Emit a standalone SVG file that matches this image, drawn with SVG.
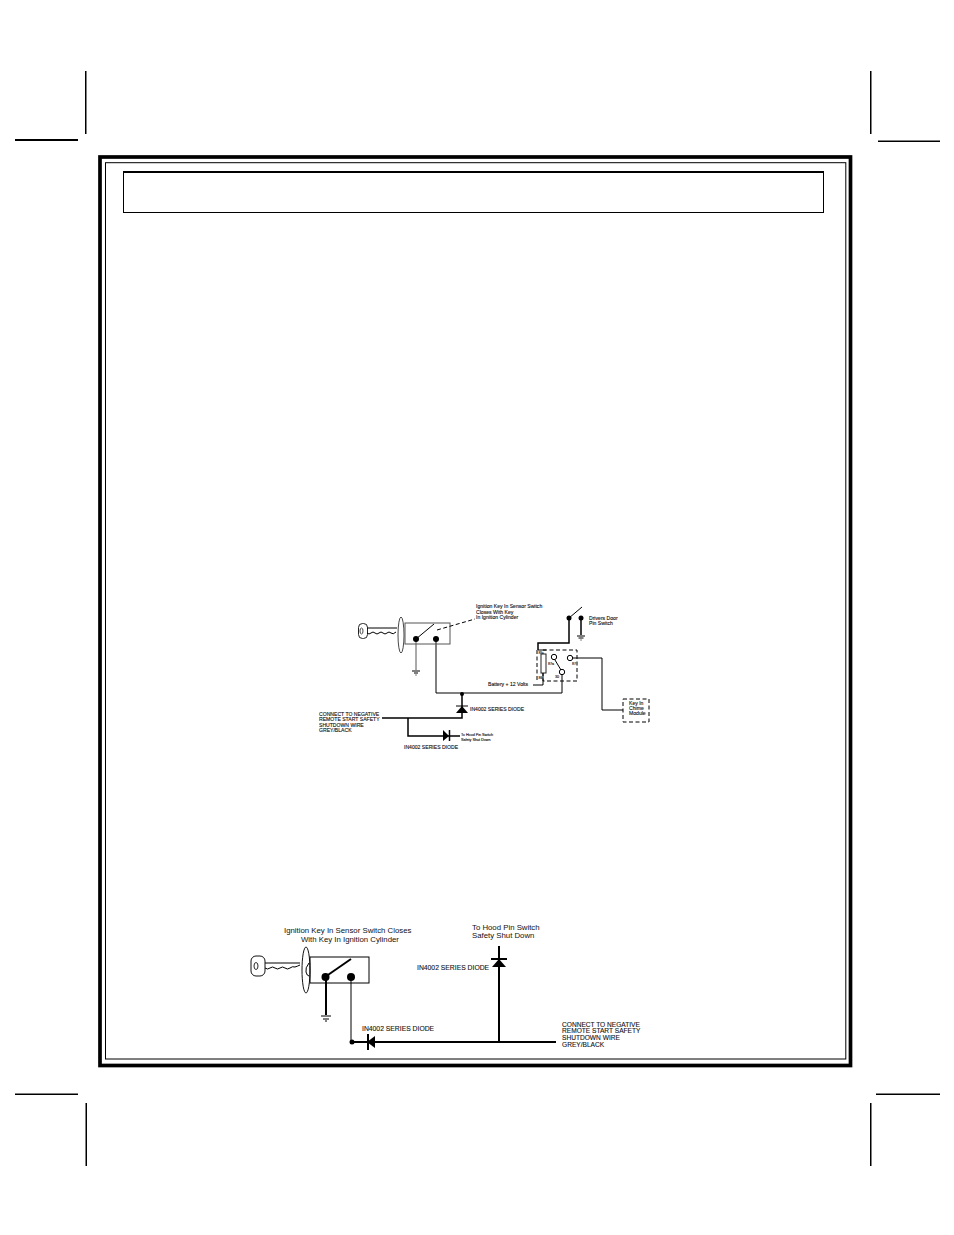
<svg xmlns="http://www.w3.org/2000/svg" width="954" height="1235" viewBox="0 0 954 1235">
<style>
text{font-family:"Liberation Sans",Arial,sans-serif;fill:#111}
.l,.t1,.t2,.th,.d{fill:none;stroke:#000}
.l{stroke-width:1}
.t1{stroke-width:1.5}
.t2{stroke-width:2}
.th{stroke:#555;stroke-width:1}
.d{stroke-width:1;stroke-dasharray:4 2.500}
.f{fill:#000;stroke:none}
.s4{font-size:3.700px;stroke:#111;stroke-width:.12}
.s5{font-size:5.100px;stroke:#111;stroke-width:.12}
.s6{font-size:6.600px;stroke:#111;stroke-width:.1}
.s7{font-size:6.800px;stroke:#111;stroke-width:.1}
.s8{font-size:7.800px}
</style>
<rect width="954" height="1235" fill="#fff"/>
<g id="crop-marks" fill="#000" stroke="none">
<rect x="85" y="71" width="1.500" height="63"/><rect x="15" y="139" width="63" height="2"/>
<rect x="870" y="71" width="1.500" height="63"/><rect x="878" y="140.500" width="62" height="1.500"/>
<rect x="15" y="1093.500" width="63" height="1.500"/><rect x="876" y="1093.500" width="64" height="1.500"/>
<rect x="85.500" y="1103" width="1.500" height="63"/><rect x="870" y="1103" width="1.500" height="63"/>
</g>
<g id="frame">
<rect x="100" y="157" width="750.500" height="908.500" fill="none" stroke="#000" stroke-width="3.700"/>
<rect x="105.500" y="162.700" width="740.300" height="896.300" fill="none" stroke="#000" stroke-width="1"/>
</g>
<g id="header-box">
<rect x="123.500" y="172" width="700" height="40.500" fill="none" stroke="#000" stroke-width="1"/>
<rect x="123" y="171" width="701" height="2" class="f"/>
</g>
<g id="connectors">
<path class="th" d="M416 639V670"/>
<path class="l" d="M436 639V693H562V675"/>
<path class="t1" d="M382 718H462V694"/>
<path class="t1" d="M408 718V736H460"/>
<path class="t1" d="M569 618V643H538V650"/>
<path class="t1" d="M581 618V635"/>
<path class="l" d="M573 658H602V710H623"/>
<path class="t2" d="M326 977V1015" stroke-width="1.500"/>
<path class="l" d="M351 977V1042"/>
<path class="t2" d="M352 1042H367M372 1042H556"/>
<path class="t2" d="M499 946V1042"/>
</g>
<g id="key-1">
<rect x="358.500" y="623.500" width="9" height="15" rx="4" fill="none" stroke="#222" stroke-width="1"/>
<ellipse cx="361.500" cy="631" rx="1.500" ry="3" fill="none" stroke="#222" stroke-width=".8"/>
<path class="l" stroke-width=".8" d="M367 628H397M367 633q2 2 4 0t4 0t4 0t4 0t4 0t4 0t5-1"/>
<ellipse cx="401" cy="635" rx="3" ry="18" fill="#fff" stroke="#333" stroke-width=".9"/>
</g>
<g id="sensor-switch-1">
<rect x="405" y="623" width="45" height="21" class="th"/>
<circle cx="416" cy="639" r="3" class="f"/><circle cx="436" cy="639" r="3" class="f"/>
<path class="l" d="M416 639L434 624"/>
<path class="d" d="M437 630L475 619" stroke-dasharray="5 3"/>
<path class="l" d="M412 671H420M414 673H418M415.500 675H416.500"/>
<text class="s5" x="476" y="608">Ignition Key In Sensor Switch</text>
<text class="s5" x="476" y="613.500">Closes With Key</text>
<text class="s5" x="476" y="619">In Ignition Cylinder</text>
</g>
<g id="door-switch">
<circle cx="569" cy="618" r="2.500" class="f"/><circle cx="581" cy="618" r="2.500" class="f"/>
<path class="l" d="M569 618L582 607M577 636H585M578.500 638H583.500M580.500 640H581.500"/>
<text class="s5" x="589" y="620">Drivers Door</text>
<text class="s5" x="589" y="625">Pin Switch</text>
</g>
<g id="relay">
<rect x="543" y="650" width="34" height="31" class="d"/>
<path class="d" d="M537 650V680"/>
<rect x="541" y="654" width="5" height="19" fill="#fff" stroke="#222" stroke-width="1"/>
<path class="l" d="M533 685H543V673M538 650H546"/>
<circle cx="554" cy="657" r="2.700" fill="#fff" stroke="#000"/><circle cx="570" cy="658" r="2.700" fill="#fff" stroke="#000"/><circle cx="562" cy="672" r="2.700" fill="#fff" stroke="#000"/>
<path class="l" d="M555 660L561 670"/>
<text class="s4" x="538.500" y="653.500">85</text><text class="s4" x="538.500" y="678.500">86</text><text class="s4" x="548" y="664.500">87a</text><text class="s4" x="572" y="664.500">87</text><text class="s4" x="555" y="678">30</text>
<text class="s5" x="488" y="686">Battery + 12 Volts</text>
</g>
<g id="chime-module">
<rect x="623" y="699" width="26" height="23" class="d"/>
<text class="s5" x="629" y="705">Key In</text><text class="s5" x="629" y="710">Chime</text><text class="s5" x="629" y="715">Module</text>
</g>
<g id="diode-1a">
<circle cx="462" cy="694" r="2" class="f"/>
<path class="f" d="M462 706L456 713H468Z"/><path class="l" d="M456 706H468"/>
<text class="s5" x="470" y="711">IN4002 SERIES DIODE</text>
</g>
<g id="diode-1b">
<path class="f" d="M443 730L449 736L443 741Z"/><path class="t1" d="M449.500 730V741"/>
<text class="s4" x="461" y="735.500">To Hood Pin Switch</text><text class="s4" x="461" y="740.500">Safety Shut Down</text>
<text class="s5" x="404" y="749">IN4002 SERIES DIODE</text>
</g>
<g id="shutdown-label-1">
<text class="s5" x="319" y="716">CONNECT TO NEGATIVE</text>
<text class="s5" x="319" y="721">REMOTE START SAFETY</text>
<text class="s5" x="319" y="726.500">SHUTDOWN WIRE</text>
<text class="s5" x="319" y="732">GREY/BLACK</text>
</g>
<g id="key-2">
<rect x="251" y="956" width="14" height="20" rx="5" fill="none" stroke="#111" stroke-width="1"/>
<ellipse cx="256" cy="966" rx="2" ry="3.500" fill="none" stroke="#111" stroke-width=".9"/>
<path class="l" d="M265 963H300M265 968q2.500 2 5 0t5 0t5 0t5 0t5 0t5-1q3-1 5-2"/>
<ellipse cx="306" cy="970" rx="4" ry="23" fill="#fff" stroke="#111" stroke-width="1"/>
<path class="l" d="M309 963q-4 5-3 9t3 4" stroke-width=".8"/>
</g>
<g id="sensor-switch-2">
<rect x="310" y="957" width="59" height="26" fill="none" stroke="#000" stroke-width="1"/>
<circle cx="325.500" cy="977" r="4" class="f"/><circle cx="351" cy="977" r="4" class="f"/>
<path class="t2" d="M325 977L351 959"/>
<path class="l" d="M321 1016H331M323 1019H329M325 1021H327"/>
<text class="s8" x="284" y="933">Ignition Key In Sensor Switch Closes</text>
<text class="s8" x="301" y="942">With Key In Ignition Cylinder</text>
</g>
<g id="diode-2a">
<circle cx="352" cy="1042" r="2.500" class="f"/>
<path class="f" d="M367 1042L375 1036V1048Z"/><path class="t2" d="M368 1034V1050"/>
<text class="s7" x="362" y="1030.500">IN4002 SERIES DIODE</text>
</g>
<g id="diode-2b">
<path class="f" d="M499 959L492 967H506Z"/><path class="t2" d="M491 959H507"/>
<text class="s7" x="417" y="970">IN4002 SERIES DIODE</text>
<text class="s8" x="472" y="930">To Hood Pin Switch</text>
<text class="s8" x="472" y="938">Safety Shut Down</text>
</g>
<g id="shutdown-label-2">
<text class="s6" x="562" y="1026.500">CONNECT TO NEGATIVE</text>
<text class="s6" x="562" y="1033">REMOTE START SAFETY</text>
<text class="s6" x="562" y="1040">SHUTDOWN WIRE</text>
<text class="s6" x="562" y="1046.500">GREY/BLACK</text>
</g>
</svg>
